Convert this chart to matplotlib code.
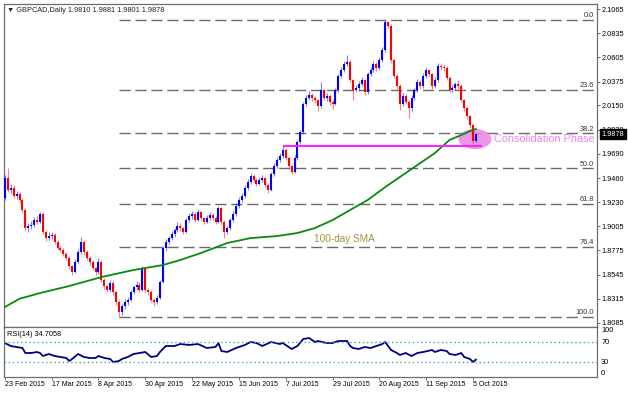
import matplotlib
matplotlib.use('Agg')
import matplotlib.pyplot as plt
from matplotlib.patches import Ellipse
import numpy as np
import pandas as pd

plt.rcParams['font.family'] = ['Liberation Sans', 'DejaVu Sans']

# daily bars, 23 Feb 2015 .. 6 Oct 2015 (weekdays)
dates = pd.bdate_range('2015-02-23', '2015-10-06')

# GBPCAD daily OHLC
o = [1.9271, 1.9461, 1.9347, 1.9366, 1.9290, 1.9309, 1.9252, 1.9157, 1.8986, 1.9005,
     1.9015, 1.9062, 1.9043, 1.9119, 1.8948, 1.8891, 1.8910, 1.8920, 1.8853, 1.8797,
     1.8778, 1.8740, 1.8702, 1.8626, 1.8569, 1.8664, 1.8759, 1.8853, 1.8759, 1.8702,
     1.8664, 1.8607, 1.8569, 1.8664, 1.8493, 1.8436, 1.8398, 1.8465, 1.8379, 1.8284,
     1.8189, 1.8246, 1.8284, 1.8303, 1.8379, 1.8427, 1.8446, 1.8398, 1.8607, 1.8398,
     1.8379, 1.8303, 1.8284, 1.8322, 1.8474, 1.8797, 1.8853, 1.8891, 1.8929, 1.8968,
     1.9005, 1.8986, 1.8948, 1.9062, 1.9100, 1.9119, 1.9062, 1.9138, 1.9081, 1.9043,
     1.9081, 1.9110, 1.9081, 1.9043, 1.9176, 1.9043, 1.8948, 1.8986, 1.9062, 1.9119,
     1.9195, 1.9252, 1.9290, 1.9366, 1.9423, 1.9480, 1.9442, 1.9404, 1.9442, 1.9461,
     1.9394, 1.9347, 1.9499, 1.9575, 1.9632, 1.9670, 1.9727, 1.9651, 1.9575, 1.9518,
     1.9651, 1.9802, 1.9897, 2.0163, 2.0220, 2.0248, 2.0220, 2.0201, 2.0144, 2.0296,
     2.0220, 2.0239, 2.0182, 2.0163, 2.0296, 2.0429, 2.0486, 2.0543, 2.0562, 2.0391,
     2.0296, 2.0315, 2.0353, 2.0391, 2.0277, 2.0448, 2.0486, 2.0543, 2.0505, 2.0581,
     2.0676, 2.0941, 2.0903, 2.0581, 2.0429, 2.0334, 2.0163, 2.0239, 2.0182, 2.0125,
     2.0220, 2.0296, 2.0372, 2.0334, 2.0429, 2.0486, 2.0448, 2.0334, 2.0391, 2.0524,
     2.0515, 2.0505, 2.0410, 2.0296, 2.0315, 2.0353, 2.0334, 2.0201, 2.0125, 2.0049,
     1.9964, 1.9810]
h = [1.9490, 1.9556, 1.9400, 1.9390, 1.9340, 1.9330, 1.9275, 1.9170, 1.9030, 1.9050,
     1.9090, 1.9100, 1.9140, 1.9135, 1.8965, 1.8945, 1.8950, 1.8935, 1.8870, 1.8820,
     1.8795, 1.8760, 1.8720, 1.8640, 1.8690, 1.8790, 1.8900, 1.8870, 1.8775, 1.8720,
     1.8685, 1.8620, 1.8700, 1.8680, 1.8510, 1.8455, 1.8490, 1.8480, 1.8395, 1.8300,
     1.8270, 1.8310, 1.8330, 1.8400, 1.8450, 1.8480, 1.8470, 1.8630, 1.8620, 1.8420,
     1.8395, 1.8320, 1.8350, 1.8495, 1.8815, 1.8880, 1.8915, 1.8960, 1.8990, 1.9040,
     1.9030, 1.9000, 1.9085, 1.9130, 1.9150, 1.9135, 1.9165, 1.9150, 1.9095, 1.9110,
     1.9135, 1.9125, 1.9100, 1.9200, 1.9190, 1.9060, 1.9010, 1.9085, 1.9145, 1.9220,
     1.9280, 1.9320, 1.9390, 1.9450, 1.9505, 1.9500, 1.9465, 1.9470, 1.9490, 1.9475,
     1.9410, 1.9520, 1.9600, 1.9660, 1.9700, 1.9765, 1.9745, 1.9670, 1.9590, 1.9675,
     1.9825, 1.9920, 2.0185, 2.0250, 2.0290, 2.0265, 2.0240, 2.0215, 2.0372, 2.0310,
     2.0270, 2.0255, 2.0200, 2.0320, 2.0450, 2.0510, 2.0570, 2.0628, 2.0580, 2.0405,
     2.0345, 2.0380, 2.0420, 2.0405, 2.0470, 2.0510, 2.0570, 2.0560, 2.0610, 2.0700,
     2.0961, 2.0955, 2.0920, 2.0600, 2.0445, 2.0350, 2.0270, 2.0260, 2.0200, 2.0245,
     2.0320, 2.0400, 2.0390, 2.0455, 2.0510, 2.0500, 2.0460, 2.0415, 2.0550, 2.0545,
     2.0540, 2.0525, 2.0425, 2.0340, 2.0375, 2.0391, 2.0350, 2.0215, 2.0140, 2.0060,
     1.9975, 1.9881]
l = [1.9250, 1.9330, 1.9320, 1.9270, 1.9265, 1.9230, 1.9140, 1.8960, 1.8950, 1.8980,
     1.8995, 1.9020, 1.9030, 1.8930, 1.8865, 1.8870, 1.8885, 1.8830, 1.8775, 1.8755,
     1.8720, 1.8685, 1.8600, 1.8545, 1.8555, 1.8650, 1.8740, 1.8735, 1.8680, 1.8640,
     1.8590, 1.8540, 1.8550, 1.8470, 1.8410, 1.8375, 1.8380, 1.8355, 1.8260, 1.8142,
     1.8160, 1.8220, 1.8260, 1.8290, 1.8360, 1.8400, 1.8380, 1.8385, 1.8380, 1.8350,
     1.8280, 1.8250, 1.8265, 1.8310, 1.8465, 1.8770, 1.8830, 1.8870, 1.8905, 1.8945,
     1.8960, 1.8925, 1.8935, 1.9040, 1.9075, 1.9040, 1.9050, 1.9060, 1.9020, 1.9030,
     1.9060, 1.9060, 1.9020, 1.9030, 1.9020, 1.8891, 1.8925, 1.8970, 1.9045, 1.9100,
     1.9180, 1.9235, 1.9275, 1.9350, 1.9405, 1.9420, 1.9385, 1.9390, 1.9420, 1.9375,
     1.9318, 1.9335, 1.9480, 1.9560, 1.9610, 1.9650, 1.9630, 1.9555, 1.9495, 1.9505,
     1.9635, 1.9785, 1.9880, 2.0140, 2.0200, 2.0195, 2.0170, 2.0100, 2.0130, 2.0200,
     2.0195, 2.0150, 2.0120, 2.0150, 2.0280, 2.0410, 2.0470, 2.0525, 2.0370, 2.0201,
     2.0275, 2.0290, 2.0335, 2.0250, 2.0260, 2.0425, 2.0470, 2.0480, 2.0490, 2.0560,
     2.0660, 2.0880, 2.0560, 2.0410, 2.0310, 2.0106, 2.0140, 2.0160, 2.0030, 2.0100,
     2.0200, 2.0275, 2.0310, 2.0315, 2.0410, 2.0425, 2.0310, 2.0315, 2.0375, 2.0490,
     2.0480, 2.0390, 2.0275, 2.0280, 2.0300, 2.0310, 2.0180, 2.0100, 2.0020, 1.9940,
     1.9790, 1.9801]
c = [1.9461, 1.9347, 1.9366, 1.9290, 1.9309, 1.9252, 1.9157, 1.8986, 1.9005, 1.9015,
     1.9062, 1.9043, 1.9119, 1.8948, 1.8891, 1.8910, 1.8920, 1.8853, 1.8797, 1.8778,
     1.8740, 1.8702, 1.8626, 1.8569, 1.8664, 1.8759, 1.8853, 1.8759, 1.8702, 1.8664,
     1.8607, 1.8569, 1.8664, 1.8493, 1.8436, 1.8398, 1.8465, 1.8379, 1.8284, 1.8189,
     1.8246, 1.8284, 1.8303, 1.8379, 1.8427, 1.8446, 1.8398, 1.8607, 1.8398, 1.8379,
     1.8303, 1.8284, 1.8322, 1.8474, 1.8797, 1.8853, 1.8891, 1.8929, 1.8968, 1.9005,
     1.8986, 1.8948, 1.9062, 1.9100, 1.9119, 1.9062, 1.9138, 1.9081, 1.9043, 1.9081,
     1.9110, 1.9081, 1.9043, 1.9176, 1.9043, 1.8948, 1.8986, 1.9062, 1.9119, 1.9195,
     1.9252, 1.9290, 1.9366, 1.9423, 1.9480, 1.9442, 1.9404, 1.9442, 1.9461, 1.9394,
     1.9347, 1.9499, 1.9575, 1.9632, 1.9670, 1.9727, 1.9651, 1.9575, 1.9518, 1.9651,
     1.9802, 1.9897, 2.0163, 2.0220, 2.0248, 2.0220, 2.0201, 2.0144, 2.0296, 2.0220,
     2.0239, 2.0182, 2.0163, 2.0296, 2.0429, 2.0486, 2.0543, 2.0562, 2.0391, 2.0296,
     2.0315, 2.0353, 2.0391, 2.0277, 2.0448, 2.0486, 2.0543, 2.0505, 2.0581, 2.0676,
     2.0941, 2.0903, 2.0581, 2.0429, 2.0334, 2.0163, 2.0239, 2.0182, 2.0125, 2.0220,
     2.0296, 2.0372, 2.0334, 2.0429, 2.0486, 2.0448, 2.0334, 2.0391, 2.0524, 2.0515,
     2.0505, 2.0410, 2.0296, 2.0315, 2.0353, 2.0334, 2.0201, 2.0125, 2.0049, 1.9964,
     1.9812, 1.9878]

# 100-day SMA, read at a few bars
sma_bar = [0, 5, 12, 22, 33, 44, 50, 54, 60, 67, 76, 84, 93, 100, 106, 112, 118, 124,
           130, 135, 141, 147, 152, 156, 159, 161]
sma_val = [1.8237, 1.8315, 1.8369, 1.8436, 1.8521, 1.8588, 1.8616, 1.8635, 1.8683, 1.8749,
           1.8844, 1.8891, 1.8910, 1.8939, 1.8986, 1.9062, 1.9157, 1.9252, 1.9375, 1.9470,
           1.9584, 1.9698, 1.9822, 1.9869, 1.9907, 1.9926]

# RSI(14)
rsi_bar = [0, 2, 4, 6, 7, 9, 11, 12, 13, 15, 17, 21, 22, 23, 25, 27, 29, 31, 32, 34,
           36, 37, 39, 40, 42, 44, 46, 48, 50, 52, 53, 55, 58, 60, 63, 66, 69, 72, 73, 74,
           76, 79, 82, 84, 86, 88, 91, 94, 95, 98, 100, 102, 104, 106, 107, 110, 112, 114, 117, 118,
           119, 121, 123, 125, 127, 129, 130, 132, 134, 135, 137, 139, 141, 143, 146, 147, 149, 151, 152, 154,
           156, 157, 159, 160, 161]
rsi_val = [68, 62, 60, 58, 48, 48, 50, 48, 42, 46, 42, 38, 32, 36, 46, 40, 38, 38, 42, 38,
           36, 30, 32, 36, 40, 46, 48, 50, 40, 42, 50, 62, 62, 66, 64, 66, 58, 60, 68, 52,
           50, 58, 64, 70, 68, 62, 70, 66, 68, 56, 62, 76, 78, 70, 72, 68, 68, 72, 72, 62,
           58, 56, 60, 58, 62, 66, 70, 54, 48, 44, 48, 42, 48, 50, 54, 50, 54, 52, 46, 44,
           48, 40, 36, 30, 34.7058]

# fibonacci retracement from the April low to the August high
fib_low_bar = 39
fib_low = 1.8142
fib_high = 2.0961
fib_levels = [0.0, 23.6, 38.2, 50.0, 61.8, 76.4, 100.0]

# consolidation zone
consol_price = 1.9765
consol_start_bar = 95

price_ticks = [2.1065, 2.0835, 2.0605, 2.0375, 2.0150, 1.9920, 1.9690, 1.9460,
               1.9230, 1.9005, 1.8775, 1.8545, 1.8315, 1.8085]
date_ticks = ['23 Feb 2015', '17 Mar 2015', '8 Apr 2015', '30 Apr 2015', '22 May 2015',
              '15 Jun 2015', '7 Jul 2015', '29 Jul 2015', '20 Aug 2015', '11 Sep 2015',
              '5 Oct 2015']

frame = '#6e6e6e'
fs = 5.3

fig = plt.figure(figsize=(6.28, 3.93), dpi=100)
ax = fig.add_axes([4/628, 1-327/393, 593/628, 323/393])
ax2 = fig.add_axes([4/628, 1-377/393, 593/628, 50/393])

x = np.arange(len(c))
xmin, xmax = -0.3, 202.4

# candles
for i in x:
    col = '#0000ff' if c[i] >= o[i] else '#ff0000'
    ax.vlines(i, l[i], h[i], color=col, lw=0.8, alpha=0.5, zorder=3)
    ax.vlines(i, min(o[i], c[i]), max(o[i], c[i]), color=col, lw=1.5, zorder=4)

ax.plot(sma_bar, sma_val, color='#0a8a0a', lw=1.3, zorder=5)

# fib levels
for lv in fib_levels:
    p = fib_high - (fib_high - fib_low) * lv / 100
    ax.hlines(p, fib_low_bar, xmax, color='#6a6a6a', lw=1.0, linestyles=(0, (8, 3.5)), zorder=2)
    ax.text(xmax - 1.0, p + 0.0006, '%.1f' % lv, ha='right', va='bottom', fontsize=fs, color='#333333')

# consolidation
ax.hlines(consol_price, consol_start_bar, 163.1, color='#ff22ff', lw=1.5, zorder=6)
ax.add_patch(Ellipse((160.7, 1.9831), 11.3, 0.019, facecolor='#e884e8', edgecolor='none',
                     alpha=0.85, zorder=2.5))
ax.text(167.3, 1.9831, 'Consolidation Phase', color='#ee82ee', fontsize=7.8, va='center', ha='left')
ax.text(105.6, 1.8885, '100-day SMA', color='#a39536', fontsize=7.2, va='center', ha='left')

ax.set_xlim(xmin, xmax)
ax.set_ylim(1.8047, 2.11125)
ax.set_xticks([])
ax.yaxis.tick_right()
ax.set_yticks(price_ticks)
ax.set_yticklabels(['%.4f' % p for p in price_ticks])
ax.tick_params(axis='y', length=2, width=0.7, color=frame, labelsize=fs, pad=1.5)

# last price box
ax.annotate('%.4f' % c[-1], xy=(1, c[-1]), xycoords=('axes fraction', 'data'),
            xytext=(3.5, 0), textcoords='offset points', ha='left', va='center',
            fontsize=fs, color='white',
            bbox=dict(boxstyle='square,pad=0.2', fc='black', ec='black'), zorder=10,
            annotation_clip=False)

fig.text(7/628, 1-10/393, '\u25bc GBPCAD,Daily %.4f %.4f %.4f %.4f' % (o[-1], h[-1], l[-1], c[-1]),
         fontsize=fs, va='center', ha='left', color='#222222')

# RSI panel
ax2.plot(rsi_bar, rsi_val, color='#000080', lw=1.3)
ax2.axhline(70, color='#2fb0b0', lw=1.0, ls=(0, (1, 2)))
ax2.axhline(30, color='#2fb0b0', lw=1.0, ls=(0, (1, 2)))
ax2.set_xlim(xmin, xmax)
ax2.set_ylim(0, 100)
ax2.yaxis.tick_right()
ax2.set_yticks([100, 70, 30, 0])
ax2.set_yticklabels(['100', '70', '30', '0'])
lbls = ax2.get_yticklabels()
lbls[0].set_va('top')
lbls[-1].set_va('bottom')
ax2.tick_params(axis='y', length=0, labelsize=fs, pad=3)
ax2.text(xmin + 3/593 * (xmax - xmin), 86, 'RSI(14) %.4f' % rsi_val[-1], fontsize=fs, va='center', ha='left')

tick_pos = [dates.get_loc(pd.to_datetime(d, format='%d %b %Y')) for d in date_ticks]
ax2.set_xticks(tick_pos)
ax2.set_xticklabels(date_ticks, ha='left')
ax2.tick_params(axis='x', length=2, width=0.7, color=frame, labelsize=5.0, pad=1)

for a in (ax, ax2):
    for s in a.spines.values():
        s.set_color(frame)
        s.set_linewidth(0.9)

plt.savefig('out.png', dpi=100)
